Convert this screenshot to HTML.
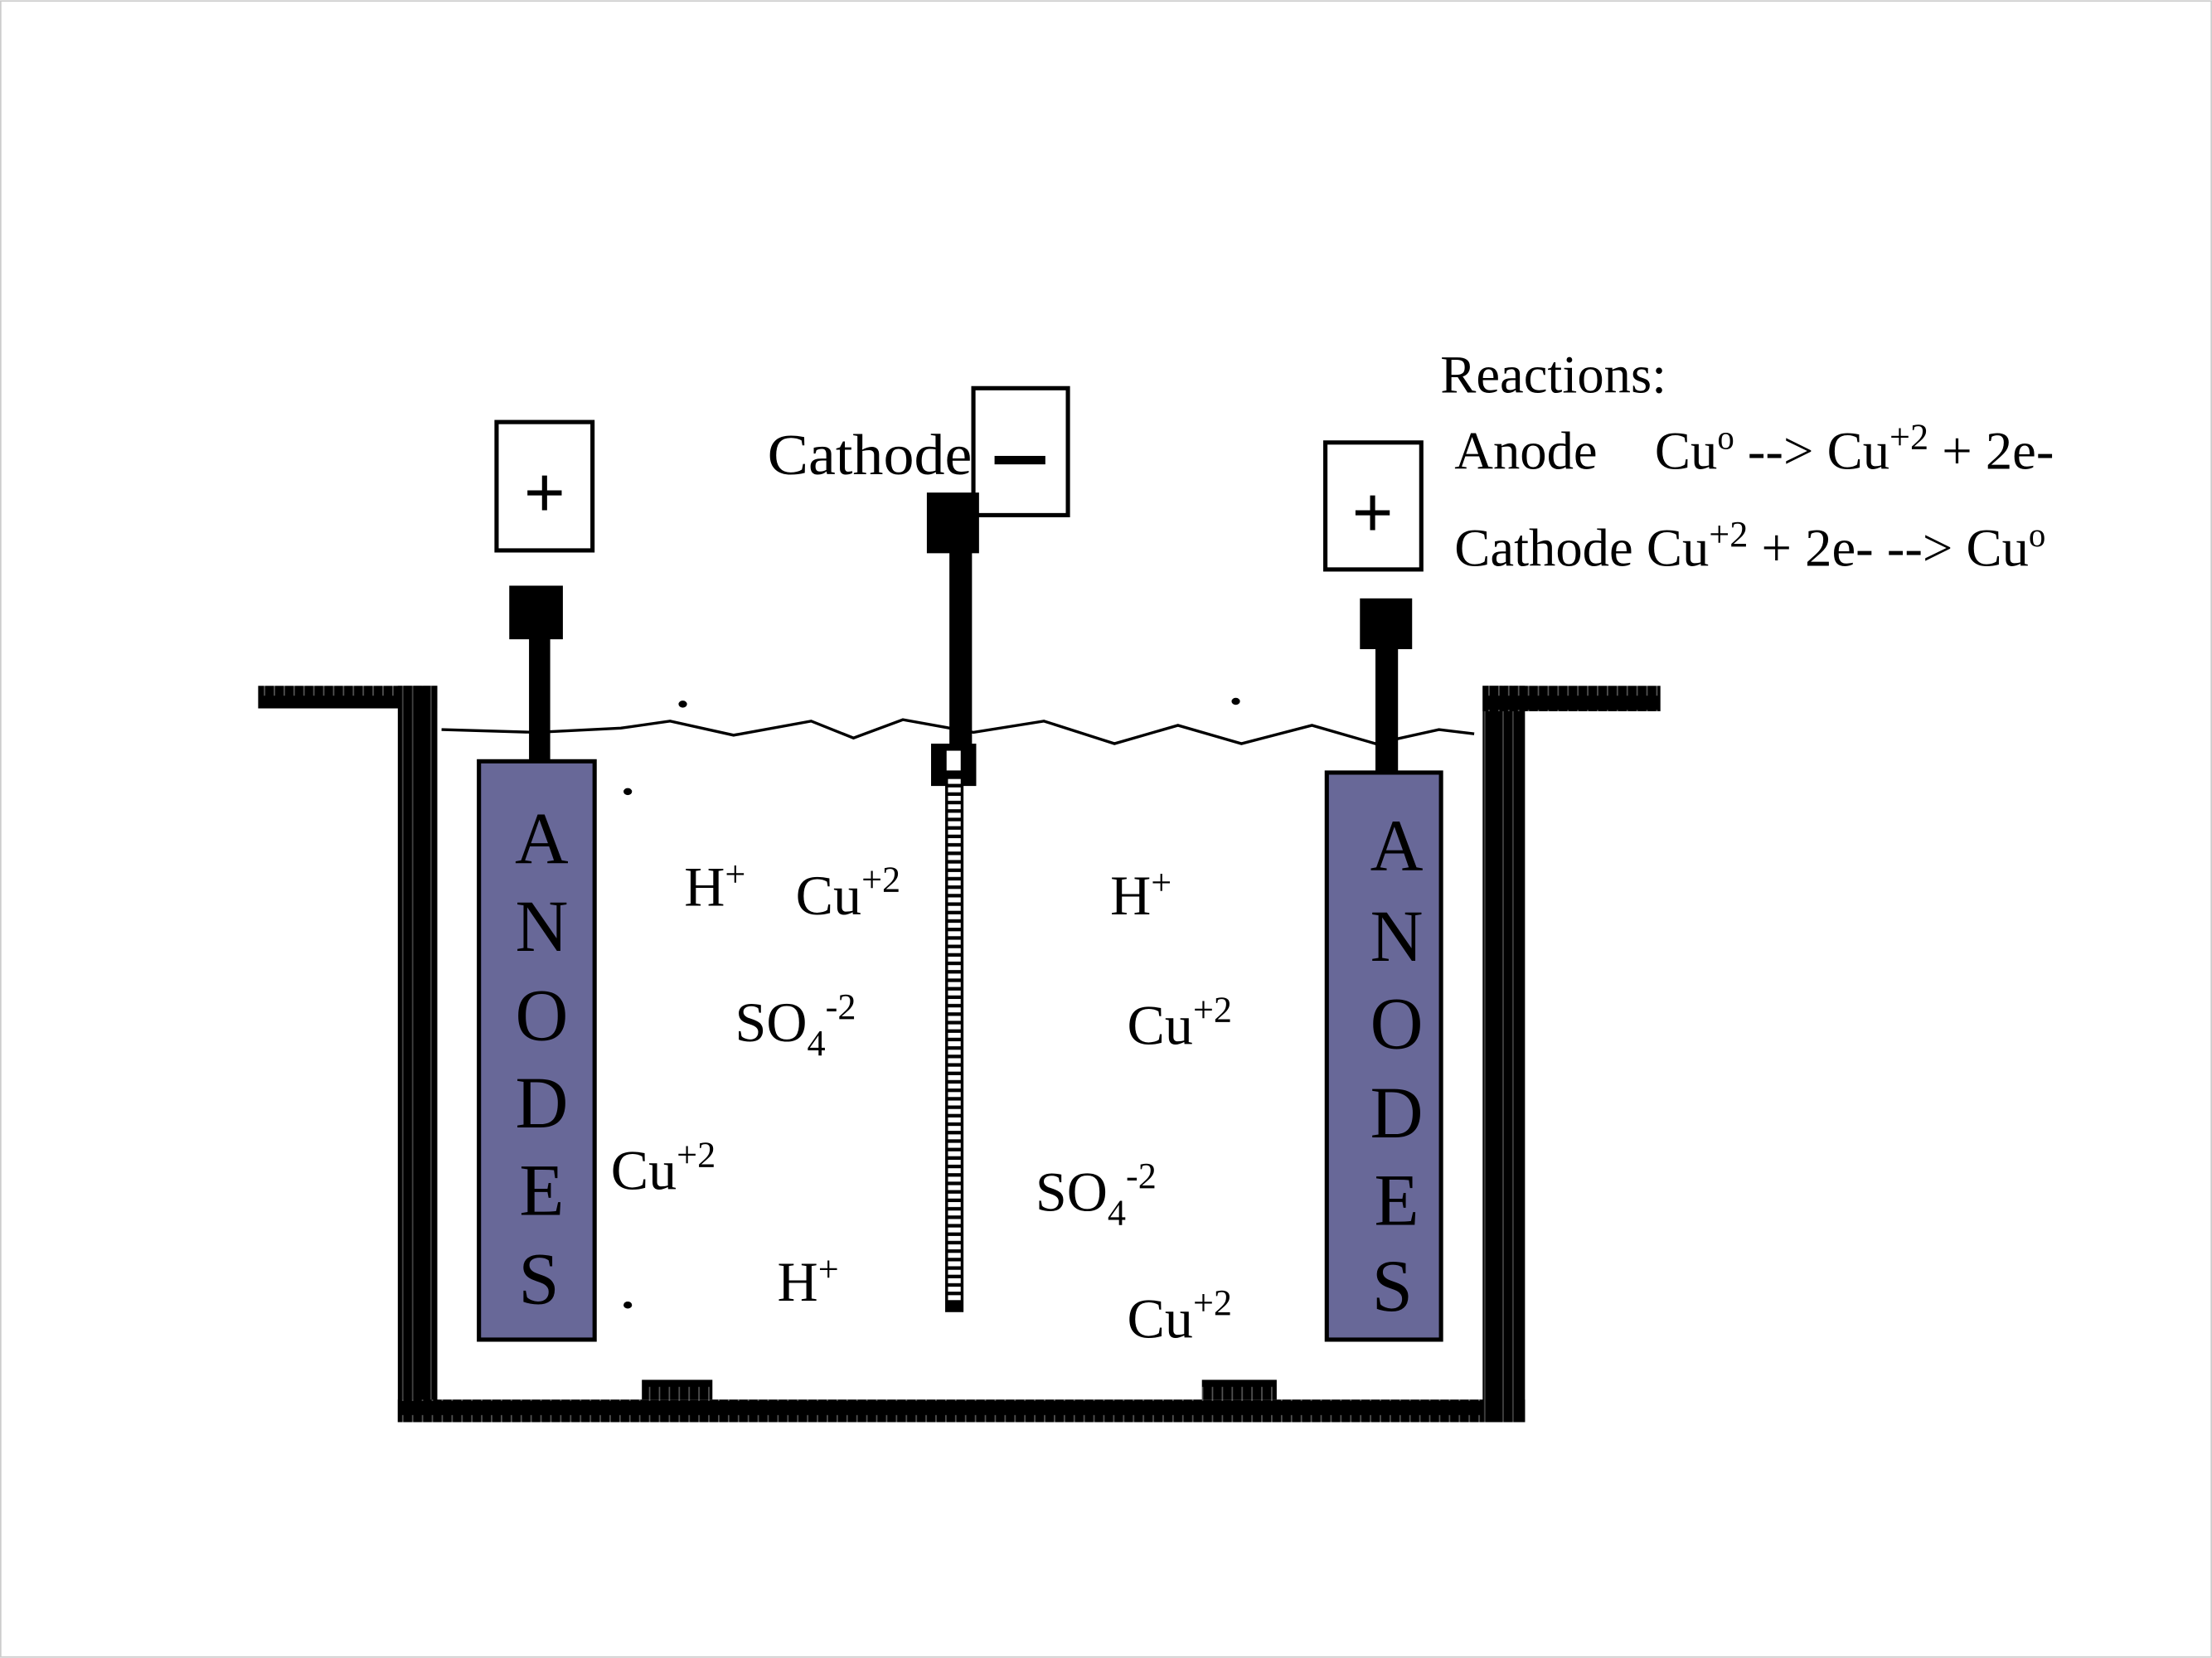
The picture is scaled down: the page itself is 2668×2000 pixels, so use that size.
<!DOCTYPE html>
<html><head><meta charset="utf-8"><style>html,body{margin:0;padding:0;background:#fff}svg{display:block}</style></head>
<body>
<svg width="2668" height="2000" viewBox="0 0 1568 1175" xmlns="http://www.w3.org/2000/svg" font-family="'Liberation Serif', serif">
<defs>
<pattern id="hs" width="7" height="20" patternUnits="userSpaceOnUse"><rect width="7" height="20" fill="#000"/><rect x="5" y="3" width="1" height="10" fill="#555"/></pattern>
<pattern id="vs" width="20" height="30" patternUnits="userSpaceOnUse"><rect width="20" height="30" fill="#000"/><rect x="5" y="0" width="1" height="30" fill="#444"/><rect x="12" y="0" width="1" height="30" fill="#444"/></pattern>
<pattern id="ld" width="9" height="6" patternUnits="userSpaceOnUse"><rect width="9" height="3.5" fill="#fff"/></pattern>
</defs>
<rect width="1568" height="1175" fill="#fff"/>
<rect x="0.5" y="0.5" width="1567" height="1174" fill="none" stroke="#ccc"/>
<!-- tank -->
<rect x="183" y="486" width="127" height="16" fill="url(#hs)"/>
<rect x="282" y="486" width="28" height="522" fill="url(#vs)"/>
<rect x="282" y="992" width="799" height="16" fill="url(#hs)"/>
<rect x="1051" y="486" width="30" height="522" fill="url(#vs)"/>
<rect x="1051" y="486" width="126" height="18" fill="url(#hs)"/>
<rect x="455" y="978" width="50" height="14" fill="url(#hs)"/>
<rect x="852" y="978" width="53" height="14" fill="url(#hs)"/>
<!-- water -->
<polyline fill="none" stroke="#000" stroke-width="2" points="313,517 380,519 440,516 475,511 520,521 575,511 605,523 640,510 690,519 740,511 790,527 835,514 880,527 930,514 975,527 1020,517 1045,520"/>
<!-- left anode -->
<rect x="352" y="299" width="68" height="91" fill="#fff" stroke="#000" stroke-width="3"/>
<text x="386" y="366" font-size="50" text-anchor="middle" font-family="'Liberation Sans',sans-serif">+</text>
<rect x="361" y="415" width="38" height="38" fill="#000"/>
<rect x="375" y="452" width="15" height="89" fill="#000"/>
<rect x="339.5" y="539.5" width="82" height="410" fill="#686898" stroke="#000" stroke-width="3"/>
<g font-size="52" text-anchor="middle" fill="#000">
<text x="384" y="612" textLength="38" lengthAdjust="spacingAndGlyphs">A</text><text x="384" y="674">N</text><text x="384" y="737">O</text><text x="384" y="799">D</text><text x="384" y="861">E</text><text x="382" y="924">S</text>
</g>
<!-- right anode -->
<rect x="939.5" y="313.5" width="68" height="90" fill="#fff" stroke="#000" stroke-width="3"/>
<text x="973" y="380" font-size="50" text-anchor="middle" font-family="'Liberation Sans',sans-serif">+</text>
<rect x="964" y="424" width="37" height="36" fill="#000"/>
<rect x="975" y="459" width="16" height="89" fill="#000"/>
<rect x="940.5" y="547.5" width="81" height="402" fill="#686898" stroke="#000" stroke-width="3"/>
<g font-size="52" text-anchor="middle" fill="#000">
<text x="990" y="617">A</text><text x="990" y="681">N</text><text x="990" y="743">O</text><text x="990" y="806">D</text><text x="990" y="868">E</text><text x="987" y="929">S</text>
</g>
<!-- cathode -->
<text x="544" y="336" font-size="41" textLength="145" lengthAdjust="spacingAndGlyphs">Cathode</text>
<rect x="690" y="275" width="67" height="90" fill="#fff" stroke="#000" stroke-width="3"/>
<rect x="705" y="323" width="36" height="6" fill="#000"/>
<rect x="657" y="349" width="37" height="43" fill="#000"/>
<rect x="673" y="390" width="16" height="140" fill="#000"/>
<rect x="660" y="527" width="32" height="30" fill="#000"/>
<rect x="671" y="532" width="10" height="14" fill="#fff"/>
<rect x="670" y="548" width="13" height="382" fill="#000"/>
<rect x="672" y="552" width="9" height="370" fill="url(#ld)"/>
<!-- dots -->
<g fill="#000"><ellipse cx="484" cy="499" rx="3" ry="2.5"/><ellipse cx="876" cy="497" rx="3" ry="2.5"/><ellipse cx="445" cy="561" rx="3" ry="2.5"/><ellipse cx="445" cy="925" rx="3" ry="2.5"/></g>
<!-- ions -->
<g font-size="40">
<text x="485" y="642">H<tspan font-size="26" dy="-14">+</tspan></text>
<text x="564" y="648">Cu<tspan font-size="26" dy="-16">+2</tspan></text>
<text x="521" y="738">SO<tspan font-size="26" dy="10">4</tspan><tspan font-size="26" dy="-26">-2</tspan></text>
<text x="433" y="843">Cu<tspan font-size="26" dy="-16">+2</tspan></text>
<text x="551" y="922">H<tspan font-size="26" dy="-14">+</tspan></text>
<text x="787" y="648">H<tspan font-size="26" dy="-14">+</tspan></text>
<text x="799" y="740">Cu<tspan font-size="26" dy="-16">+2</tspan></text>
<text x="734" y="858">SO<tspan font-size="26" dy="10">4</tspan><tspan font-size="26" dy="-26">-2</tspan></text>
<text x="799" y="948">Cu<tspan font-size="26" dy="-16">+2</tspan></text>
</g>
<!-- reactions -->
<g font-size="38">
<text x="1021" y="278">Reactions:</text>
<text x="1031" y="332">Anode</text>
<text x="1173" y="332">Cu<tspan font-size="24" dy="-14">o</tspan><tspan dy="14"> --&gt; Cu</tspan><tspan font-size="26" dy="-14">+2</tspan><tspan dy="14"> + 2e-</tspan></text>
<text x="1031" y="401">Cathode Cu<tspan font-size="26" dy="-14">+2</tspan><tspan dy="14"> + 2e- --&gt; Cu</tspan><tspan font-size="24" dy="-14">o</tspan></text>
</g>
</svg>
</body></html>
